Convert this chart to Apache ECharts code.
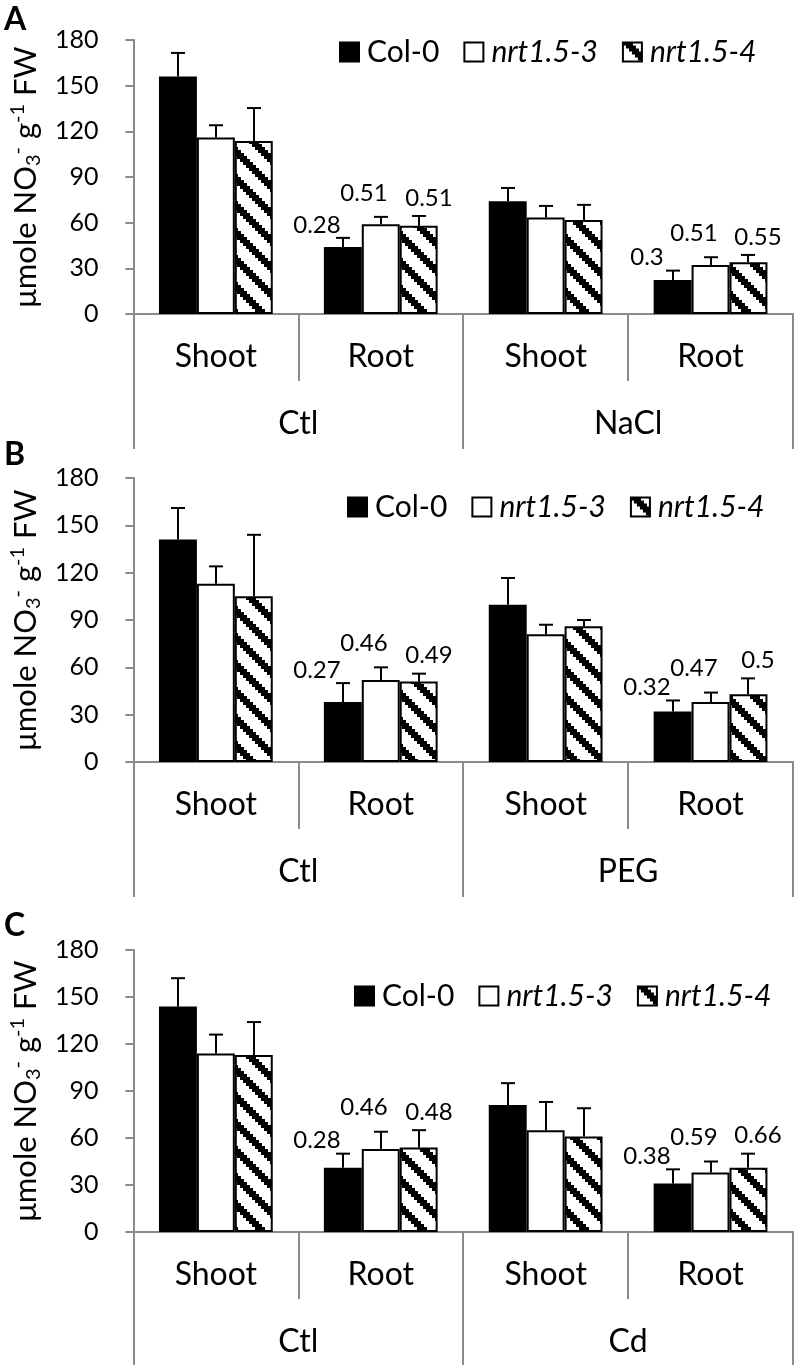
<!DOCTYPE html>
<html><head><meta charset="utf-8">
<script src="https://cdn.jsdelivr.net/npm/echarts@6/dist/echarts.min.js"></script>
<style>html,body{margin:0;padding:0;background:#fff}#c{width:797px;height:1365px}</style>
</head><body><div id="c"></div>
<script>
// ---------- data ----------
const categories = ['Shoot', 'Root', 'Shoot', 'Root'];
const seriesNames = ['Col-0', 'nrt1.5-3', 'nrt1.5-4'];
const groupsA = ['Ctl', 'NaCl'];
const groupsB = ['Ctl', 'PEG'];
const groupsC = ['Ctl', 'Cd'];

const col0A = [156, 44, 74, 22.4];
const col0AErr = [15.5, 6, 8.8, 6.1];
const nrt3A = [116, 59, 63.4, 32.2];
const nrt3AErr = [8, 4.8, 7.6, 5.1];
const nrt4A = [113.6, 58, 61.8, 34];
const nrt4AErr = [21.7, 6.4, 9.9, 4.8];
const col0ALab = ['', '0.28', '', '0.3'];
const nrt3ALab = ['', '0.51', '', '0.51'];
const nrt4ALab = ['', '0.51', '', '0.55'];

const col0B = [141, 38, 99.6, 32];
const col0BErr = [20, 12, 17, 7];
const nrt3B = [113, 52, 81, 38];
const nrt3BErr = [11, 8, 6, 6];
const nrt4B = [105, 51, 86, 43];
const nrt4BErr = [39, 5, 4, 10];
const col0BLab = ['', '0.27', '', '0.32'];
const nrt3BLab = ['', '0.46', '', '0.47'];
const nrt4BLab = ['', '0.49', '', '0.5'];

const col0C = [144, 41, 81, 31];
const col0CErr = [18, 9, 14, 9];
const nrt3C = [114, 53, 65, 38];
const nrt3CErr = [12, 11, 18, 7];
const nrt4C = [113, 54, 61, 41];
const nrt4CErr = [21, 11, 18, 9];
const col0CLab = ['', '0.28', '', '0.38'];
const nrt3CLab = ['', '0.46', '', '0.59'];
const nrt4CLab = ['', '0.48', '', '0.66'];

const yMin = 0, yMax = 180, yStep = 30;

// ---------- styling ----------
const FONT = 'Lato';
const AXIS_GRAY = '#8a8a8a';
const GAP = 0.31;
const LABEL_OFF = [[-26, -13], [-17, -24], [10, -18]];

function makeHatch() {
  const P = 27, bw = 10, step = 3;
  const c = document.createElement('canvas');
  c.width = P; c.height = P;
  const ctx = c.getContext('2d');
  ctx.fillStyle = '#fff'; ctx.fillRect(0, 0, P, P);
  ctx.fillStyle = '#000';
  for (let y = 0; y < P; y++) {
    const s = Math.floor(y / step) * step;
    for (let k = 0; k < bw; k++) ctx.fillRect((s + k) % P, y, 1, 1);
  }
  return c;
}
const hatch = { image: makeHatch(), repeat: 'repeat' };
const fills = ['#000', '#fff', hatch];

const panels = [
  { letter: 'A', groups: groupsA, top: 40, height: 274, legendLeft: 334, legendTop: 32, letterTop: 4,
    vals: [col0A, nrt3A, nrt4A], errs: [col0AErr, nrt3AErr, nrt4AErr], labs: [col0ALab, nrt3ALab, nrt4ALab] },
  { letter: 'B', groups: groupsB, top: 478, height: 284, legendLeft: 342, legendTop: 487, letterTop: 439,
    vals: [col0B, nrt3B, nrt4B], errs: [col0BErr, nrt3BErr, nrt4BErr], labs: [col0BLab, nrt3BLab, nrt4BLab] },
  { letter: 'C', groups: groupsC, top: 950, height: 282, legendLeft: 349, legendTop: 976, letterTop: 910,
    vals: [col0C, nrt3C, nrt4C], errs: [col0CErr, nrt3CErr, nrt4CErr], labs: [col0CLab, nrt3CLab, nrt4CLab] }
];

const grid = [], xAxis = [], yAxis = [], series = [], legend = [], graphic = [];
panels.forEach((p, gi) => {
  grid.push({ left: 126, right: 4, top: p.top, height: p.height });
  xAxis.push({
    type: 'category', gridIndex: gi, data: categories, position: 'bottom',
    axisLine: { lineStyle: { color: AXIS_GRAY, width: 2 } },
    axisTick: { show: true, interval: 0, length: 67, lineStyle: { color: AXIS_GRAY, width: 2 } },
    axisLabel: { interval: 0, margin: 27, color: '#000', fontSize: 32, fontFamily: FONT }
  });
  xAxis.push({
    type: 'category', gridIndex: gi, data: p.groups, position: 'bottom',
    axisLine: { show: false },
    axisTick: { show: true, interval: 0, length: 135, lineStyle: { color: AXIS_GRAY, width: 2 } },
    axisLabel: { interval: 0, margin: 94, color: '#000', fontSize: 32, fontFamily: FONT }
  });
  yAxis.push({
    type: 'value', gridIndex: gi, min: yMin, max: yMax, interval: yStep,
    splitLine: { show: false },
    axisLine: { show: true, lineStyle: { color: AXIS_GRAY, width: 2 } },
    axisTick: { show: true, length: 8, lineStyle: { color: AXIS_GRAY, width: 2 } },
    axisLabel: { margin: 35, color: '#000', fontSize: 25, fontFamily: FONT },
    name: 'μmole NO{sub|3}{sup|-} g{sup|-1} FW',
    nameLocation: 'middle', nameRotate: 90, nameGap: 86,
    nameTextStyle: {
      color: '#000', fontSize: 31, fontFamily: FONT, lineHeight: 36,
      rich: {
        sub: { fontSize: 20, fontFamily: FONT, color: '#000', verticalAlign: 'bottom', lineHeight: 20 },
        sup: { fontSize: 20, fontFamily: FONT, color: '#000', verticalAlign: 'top', lineHeight: 20 }
      }
    }
  });
  seriesNames.forEach((name, si) => {
    series.push({
      name, type: 'bar', xAxisIndex: gi * 2, yAxisIndex: gi,
      data: p.vals[si], barGap: '0%', barCategoryGap: (GAP * 100) + '%',
      itemStyle: { color: fills[si], borderColor: '#000', borderWidth: 2 },
      emphasis: { disabled: true }, animation: false, z: 2
    });
  });
  const rows = [];
  seriesNames.forEach((name, si) => {
    p.vals[si].forEach((v, ci) => rows.push({ value: [ci, v, p.errs[si][ci], si], lab: p.labs[si][ci] }));
  });
  series.push({
    type: 'custom', xAxisIndex: gi * 2, yAxisIndex: gi, z: 5, animation: false, silent: true,
    data: rows.map(r => r.value),
    renderItem: (params, api) => {
      const r = rows[params.dataIndex];
      const cat = api.value(0), v = api.value(1), e = api.value(2), s = api.value(3);
      const band = api.size([1, 0])[0];
      const w = band * (1 - GAP) / 3;
      const c0 = api.coord([cat, v]);
      const c1 = api.coord([cat, v + e]);
      const x = Math.round(c0[0] + (s - 1) * w);
      const children = [
        { type: 'line', shape: { x1: x, y1: c0[1], x2: x, y2: c1[1] }, style: { stroke: '#000', lineWidth: 2 } },
        { type: 'line', shape: { x1: x - 7, y1: c1[1], x2: x + 7, y2: c1[1] }, style: { stroke: '#000', lineWidth: 2 } }
      ];
      if (r.lab) {
        const off = LABEL_OFF[s];
        children.push({ type: 'text', style: { text: r.lab, x: x + off[0], y: c1[1] + off[1],
          align: 'center', verticalAlign: 'middle', fill: '#000', font: '24px ' + FONT } });
      }
      return { type: 'group', children };
    }
  });
  legend.push({
    left: p.legendLeft, top: p.legendTop, orient: 'horizontal',
    data: seriesNames, itemWidth: 19, itemHeight: 19, itemGap: 24, icon: 'rect',
    selectedMode: false,
    formatter: n => n === 'Col-0' ? n : '{i|' + n + '}',
    textStyle: { color: '#000', fontSize: 30, fontFamily: FONT, padding: [0, 0, 0, 3],
      rich: { i: { fontStyle: 'italic', fontSize: 30, fontFamily: FONT, color: '#000' } } }
  });
  graphic.push({ type: 'text', left: 4, top: p.letterTop,
    style: { text: p.letter, font: 'bold 32px ' + FONT, fill: '#000' } });
});

const chart = echarts.init(document.getElementById('c'), null, { renderer: 'canvas' });
chart.setOption({ animation: false, backgroundColor: '#fff', grid, xAxis, yAxis, series, legend, graphic });
</script></body></html>
